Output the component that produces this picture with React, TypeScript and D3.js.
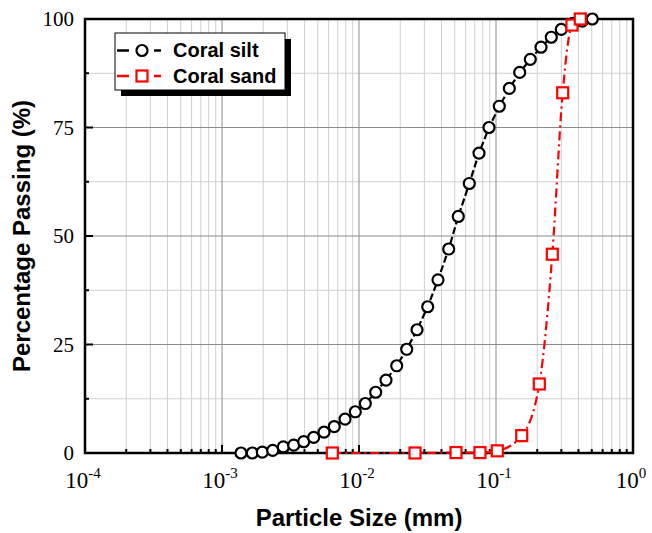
import React from "react";
import * as d3 from "d3";

const siltSize = [0.001376, 0.001664, 0.001969, 0.002345, 0.002802, 0.003337, 0.003948, 0.00467, 0.005553, 0.0066, 0.007904, 0.009398, 0.01112, 0.01324, 0.01574, 0.01885, 0.0223, 0.02652, 0.03173, 0.03773, 0.04516, 0.05306, 0.06384, 0.07515, 0.08889, 0.1057, 0.1251, 0.1489, 0.178, 0.2131, 0.2533, 0.2997, 0.3648, 0.4265, 0.5046];
const siltPass = [0, 0, 0.2, 0.6, 1.4, 1.8, 2.6, 3.6, 4.8, 6.1, 7.8, 9.5, 11.4, 14.0, 16.8, 20.1, 23.9, 28.4, 33.7, 39.9, 47.0, 54.5, 62.1, 69.1, 75.0, 79.9, 84.0, 87.7, 90.7, 93.5, 95.8, 97.6, 99.0, 99.5, 100];

const sandSize = [0.006384, 0.02564, 0.05105, 0.0764, 0.1022, 0.154, 0.2071, 0.2576, 0.3068, 0.3586, 0.4123];
const sandPass = [0, 0, 0.1, 0.1, 0.5, 4.0, 15.9, 45.8, 83.0, 98.6, 100];

const xExponents = [-4, -3, -2, -1, 0];
const yTicks = [0, 25, 50, 75, 100];
const seriesNames = ["Coral silt", "Coral sand"];

const W = 652, H = 533;
const L = 85, R = 633, T = 19, B = 453;

export default function App() {
  const x = d3.scaleLog().domain([1e-4, 1]).range([L, R]);
  const y = d3.scaleLinear().domain([0, 100]).range([B, T]);

  const majorX = xExponents.map((e) => Math.pow(10, e));
  const minorX: number[] = [];
  for (let e = -4; e < 0; e++) for (let k = 2; k <= 9; k++) minorX.push(k * Math.pow(10, e));
  const minorY = [12.5, 37.5, 62.5, 87.5];

  const silt = siltSize.map((s, i) => [s, siltPass[i]] as [number, number]);
  const sand = sandSize.map((s, i) => [s, sandPass[i]] as [number, number]);

  const lineStraight = d3.line<[number, number]>().x((d) => x(d[0])).y((d) => y(d[1]));
  const lineSmooth = d3.line<[number, number]>().x((d) => x(d[0])).y((d) => y(d[1])).curve(d3.curveMonotoneX);

  const serif = "'Liberation Serif', 'Times New Roman', serif";
  const sans = "'Liberation Sans', Arial, sans-serif";

  return (
    <svg width={W} height={H} style={{ display: "block", position: "absolute", left: 0, top: 0 }}>
      <rect x={0} y={0} width={W} height={H} fill="#fff" />
      {minorX.map((v, i) => (
        <line key={"mx" + i} x1={x(v)} x2={x(v)} y1={T} y2={B} stroke="#d0d0d0" strokeWidth={1} />
      ))}
      {minorY.map((v, i) => (
        <line key={"my" + i} x1={L} x2={R} y1={y(v)} y2={y(v)} stroke="#d0d0d0" strokeWidth={1} />
      ))}
      {majorX.map((v, i) => (
        <line key={"Mx" + i} x1={x(v)} x2={x(v)} y1={T} y2={B} stroke="#8c8c8c" strokeWidth={1} />
      ))}
      {yTicks.map((v, i) => (
        <line key={"My" + i} x1={L} x2={R} y1={y(v)} y2={y(v)} stroke="#8c8c8c" strokeWidth={1} />
      ))}
      {majorX.map((v, i) => (
        <line key={"tbx" + i} x1={x(v)} x2={x(v)} y1={B} y2={B - 8} stroke="#000" strokeWidth={2} />
      ))}
      {minorX.map((v, i) => (
        <line key={"tbm" + i} x1={x(v)} x2={x(v)} y1={B} y2={B - 4} stroke="#000" strokeWidth={2} />
      ))}
      {yTicks.map((v, i) => (
        <line key={"tly" + i} x1={L} x2={L + 8} y1={y(v)} y2={y(v)} stroke="#000" strokeWidth={2} />
      ))}
      {minorY.map((v, i) => (
        <line key={"tlm" + i} x1={L} x2={L + 4} y1={y(v)} y2={y(v)} stroke="#000" strokeWidth={2} />
      ))}
      <rect x={L} y={T} width={R - L} height={B - T} fill="none" stroke="#000" strokeWidth={2.5} />
      <path d={lineStraight(silt) || ""} fill="none" stroke="#000" strokeWidth={2.2} strokeDasharray="7,3" />
      <path d={lineSmooth(sand) || ""} fill="none" stroke="#ff0000" strokeWidth={2.2} strokeDasharray="9,4,2,4" />
      {silt.map((d, i) => (
        <circle key={"c" + i} cx={x(d[0])} cy={y(d[1])} r={5.5} fill="#fff" stroke="#000" strokeWidth={2.2} />
      ))}
      {sand.map((d, i) => (
        <rect key={"s" + i} x={x(d[0]) - 5.5} y={y(d[1]) - 5.5} width={11} height={11} fill="#fff" stroke="#ff0000" strokeWidth={2.2} />
      ))}
      {yTicks.map((v, i) => (
        <text key={"yl" + i} x={L - 11} y={y(v)} dy="0.35em" textAnchor="end" fontFamily={serif} fontSize={21} fill="#000">
          {v}
        </text>
      ))}
      {xExponents.map((e, i) => (
        <text key={"xl" + i} x={x(Math.pow(10, e)) - 2} y={488} textAnchor="middle" fontFamily={serif} fontSize={23} fill="#000">
          <tspan>10</tspan>
          <tspan dy={-10} fontSize={15}>{e === 0 ? "0" : "-" + Math.abs(e)}</tspan>
        </text>
      ))}
      <text x={(L + R) / 2} y={526} textAnchor="middle" fontFamily={sans} fontWeight="bold" fontSize={24} fill="#000">
        Particle Size (mm)
      </text>
      <text transform={`translate(30, ${(T + B) / 2}) rotate(-90)`} textAnchor="middle" fontFamily={sans} fontWeight="bold" fontSize={24} fill="#000">
        Percentage Passing (%)
      </text>
      <rect x={121} y={39} width={170} height={57} fill="#000" />
      <rect x={115} y={33} width={170} height={57} fill="#fff" stroke="#000" strokeWidth={1} />
      <line x1={117} x2={129} y1={50.5} y2={50.5} stroke="#000" strokeWidth={2.5} />
      <line x1={154} x2={161} y1={50.5} y2={50.5} stroke="#000" strokeWidth={2.5} />
      <circle cx={142} cy={50.5} r={5.5} fill="#fff" stroke="#000" strokeWidth={2.2} />
      <text x={173} y={57} fontFamily={sans} fontWeight="bold" fontSize={20} fill="#000">{seriesNames[0]}</text>
      <line x1={117} x2={129} y1={76} y2={76} stroke="#ff0000" strokeWidth={2.5} />
      <line x1={154} x2={161} y1={76} y2={76} stroke="#ff0000" strokeWidth={2.5} />
      <rect x={136.5} y={70.5} width={11} height={11} fill="#fff" stroke="#ff0000" strokeWidth={2.2} />
      <text x={173} y={82.5} fontFamily={sans} fontWeight="bold" fontSize={20} fill="#000">{seriesNames[1]}</text>
    </svg>
  );
}
